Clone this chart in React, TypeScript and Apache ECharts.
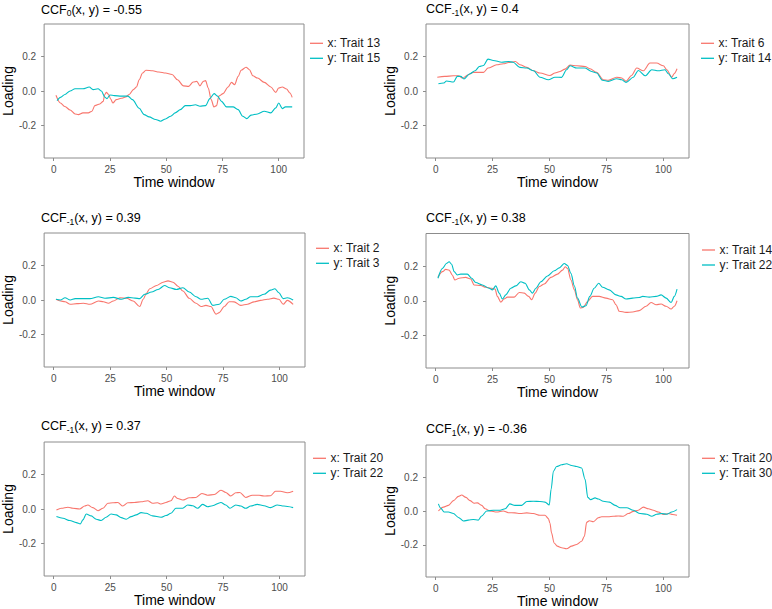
import React, { useEffect, useRef } from "react";
import * as echarts from "echarts";

const RED = "#F8766D";
const TEAL = "#00BFC4";
const FONT = "'Liberation Sans', Arial, Helvetica, sans-serif";

const timeTicks = [0, 25, 50, 75, 100];
const loadingTicks = [-0.2, 0, 0.2];
const timeRange: [number, number] = [-4.25, 111.25];
const loadingRange: [number, number] = [-0.3885, 0.3885];

// Panel titles (rich text: s = subscript lag)
const titles = [
  "{b|CCF}{s|0}{b|(x, y) = -0.55}",
  "{b|CCF}{s|-1}{b|(x, y) = 0.4}",
  "{b|CCF}{s|-1}{b|(x, y) = 0.39}",
  "{b|CCF}{s|-1}{b|(x, y) = 0.38}",
  "{b|CCF}{s|-1}{b|(x, y) = 0.37}",
  "{b|CCF}{s|1}{b|(x, y) = -0.36}",
];

const seriesNames: [string, string][] = [
  ["x: Trait 13", "y: Trait 15"],
  ["x: Trait 6", "y: Trait 14"],
  ["x: Trait 2", "y: Trait 3"],
  ["x: Trait 14", "y: Trait 22"],
  ["x: Trait 20", "y: Trait 22"],
  ["x: Trait 20", "y: Trait 30"],
];

// [time window, loading]
const p1x: [number, number][] = [
  [1, -0.025], [3, -0.07], [5, -0.09], [7.3, -0.11], [9.5, -0.133], [11, -0.137], [13, -0.127],
  [15.4, -0.127], [17, -0.117], [18.3, -0.085], [20.5, -0.075], [22, -0.06], [22.7, -0.02],
  [23.4, -0.008], [24.4, -0.02], [25.3, -0.046], [26.3, -0.07], [27.8, -0.05], [30, -0.042],
  [32, -0.035], [33.6, -0.02], [35.4, 0.008], [36.8, 0.023], [38, 0.065], [39.5, 0.104],
  [41, 0.12], [44, 0.117], [46.8, 0.11], [49.7, 0.104], [52.6, 0.096], [55, 0.065], [57.7, 0.03],
  [60, 0.027], [62, 0.052], [63.6, 0.056], [65, 0.03], [66.5, 0.056], [67.5, 0.06], [68.7, 0.017],
  [70, -0.05], [71.2, -0.092], [72.4, -0.085], [73.4, -0.03], [75.3, -0.015], [77.5, 0.023],
  [79, 0.05], [80.4, 0.037], [82, 0.085], [83.3, 0.12], [85.5, 0.138], [87, 0.123], [88.5, 0.088],
  [90.6, 0.075], [93.6, 0.05], [96.5, 0.023], [98.7, -0.008], [100, 0.017], [101.6, 0.023],
  [103.5, 0.012], [105, -0.012], [106, -0.037],
];
const p1y: [number, number][] = [
  [1.5, -0.056], [3, -0.037], [5, -0.02], [7.3, 0], [9.5, 0.013], [13, 0.013], [15.8, 0.023],
  [17.5, 0.008], [19.7, 0.013], [21.2, 0], [22.7, -0.035], [23.7, -0.044], [25, -0.023],
  [27, -0.027], [30, -0.03], [33, -0.03], [35, -0.05], [38, -0.1], [40.2, -0.137], [42.4, -0.15],
  [45.3, -0.165], [47.5, -0.175], [49.7, -0.162], [52, -0.146], [54, -0.127], [56.3, -0.108],
  [58.5, -0.085], [60.7, -0.085], [63, -0.08], [65, -0.088], [67.5, -0.085], [69.4, -0.044],
  [71.3, -0.015], [72.8, -0.03], [74.6, -0.06], [76.8, -0.092], [79.7, -0.092], [82, -0.108],
  [84, -0.146], [85.8, -0.16], [87.7, -0.14], [90.6, -0.133], [93.6, -0.117], [96.5, -0.127],
  [98.7, -0.098], [100, -0.07], [101.6, -0.102], [103, -0.092], [106, -0.092],
];

const p2x: [number, number][] = [
  [0.7, 0.08], [4, 0.085], [7.8, 0.088], [10, 0.088], [11.9, 0.075], [14.3, 0.094], [16.5, 0.108],
  [21, 0.108], [23, 0.133], [26.8, 0.152], [29.7, 0.158], [32, 0.165], [35, 0.171], [37, 0.152],
  [40, 0.137], [43, 0.117], [45.8, 0.104], [50.2, 0.09], [52.4, 0.104], [54.6, 0.113],
  [56.8, 0.127], [59, 0.15], [62, 0.146], [65.6, 0.142], [67.8, 0.129], [70.7, 0.108],
  [73.6, 0.065], [75.8, 0.062], [79.5, 0.08], [81.7, 0.075], [83.6, 0.056], [86, 0.09],
  [88.3, 0.133], [91.2, 0.117], [94.1, 0.162], [97, 0.162], [100, 0.146], [101.5, 0.123],
  [103.7, 0.08], [104.7, 0.1], [106, 0.129],
];
const p2y: [number, number][] = [
  [1.2, 0.042], [3.4, 0.046], [4.8, 0.058], [7.8, 0.052], [9.5, 0.085], [11, 0.085], [12.4, 0.07],
  [15, 0.1], [17.3, 0.117], [19.2, 0.142], [21, 0.148], [23, 0.185], [25.3, 0.177], [29, 0.167],
  [32, 0.171], [34, 0.167], [37, 0.137], [40, 0.133], [43, 0.117], [45.8, 0.08], [49.5, 0.065],
  [52.4, 0.08], [55.3, 0.079], [57.5, 0.123], [59, 0.146], [62, 0.133], [65.6, 0.133],
  [68.5, 0.113], [70.7, 0.104], [73.3, 0.062], [75.8, 0.056], [79.5, 0.071], [81.7, 0.065],
  [83.6, 0.05], [86.8, 0.08], [89, 0.119], [92, 0.088], [94.9, 0.123], [97.8, 0.117],
  [100.7, 0.123], [102.2, 0.1], [104.1, 0.071], [106, 0.08],
];

const p3x: [number, number][] = [
  [1, 0.004], [3, -0.006], [5, -0.01], [7.3, -0.025], [10.3, -0.021], [13.2, -0.019], [16, -0.025],
  [19.8, -0.006], [22, -0.01], [24.2, -0.019], [26.4, -0.006], [29.3, 0.013], [32.3, 0.01],
  [35.2, -0.006], [38.1, -0.038], [39.6, 0.004], [41, 0.038], [42.5, 0.065], [45.5, 0.084],
  [48.4, 0.103], [50.6, 0.111], [52.8, 0.103], [55, 0.08], [57.2, 0.052], [60, 0.01], [63, -0.019],
  [65.2, -0.038], [67.4, -0.031], [69.6, -0.038], [71.8, -0.082], [73.3, -0.073], [75.5, -0.038],
  [77.7, -0.01], [79.9, -0.011], [82.8, -0.031], [85.8, -0.025], [88.7, -0.011], [91.6, -0.002],
  [94.6, 0.004], [97.5, 0.011], [99.7, 0.004], [101.6, -0.025], [103.4, -0.002], [106, -0.025],
];
const p3y: [number, number][] = [
  [1, 0.004], [3, 0], [5, 0.013], [7.3, 0], [9.5, 0.008], [13.2, 0.008], [16, 0.008], [19.8, 0.019],
  [22.7, 0.01], [26.4, 0.015], [30, 0.004], [33, 0.015], [36, 0.011], [38.1, 0.008], [40.3, 0.033],
  [43.3, 0.046], [46.2, 0.061], [49.1, 0.084], [51.3, 0.071], [54.3, 0.061], [57.2, 0.071],
  [60, 0.046], [63, 0.019], [65.2, 0.004], [68.2, 0.01], [70.4, -0.031], [73.3, -0.025],
  [75.5, 0.004], [78.4, 0.021], [80.6, 0.013], [82.8, -0.006], [85, 0.004], [87.2, 0.019],
  [90.2, 0.019], [93.1, 0.033], [96, 0.057], [97.9, 0.065], [99.7, 0.042], [101.6, 0.008],
  [103.4, 0.013], [106, 0],
];

const p4x: [number, number][] = [
  [1, 0.135], [3, 0.168], [4.4, 0.181], [5.9, 0.177], [7.3, 0.149], [8.4, 0.12], [10.3, 0.13],
  [13.2, 0.135], [15.4, 0.126], [16.9, 0.091], [19.8, 0.088], [22, 0.078], [24.6, 0.072],
  [26.1, 0.067], [27.1, 0.025], [28.6, -0.008], [30, 0.01], [31.5, 0.021], [34.5, 0.021],
  [36.7, 0.048], [38.9, 0.044], [40.8, 0.025], [42.2, 0.006], [43.7, 0.044], [45.5, 0.082],
  [47.7, 0.097], [50.6, 0.135], [53.5, 0.154], [55.7, 0.177], [56.9, 0.196], [57.9, 0.187],
  [59.4, 0.12], [60.9, 0.063], [62.3, 0.005], [63.5, -0.042], [64.8, -0.038], [66.7, -0.004],
  [68.9, 0.025], [71.8, 0.025], [74.8, 0.015], [77.7, 0.006], [79.2, -0.023], [80.6, -0.061],
  [83.6, -0.067], [86.5, -0.065], [89.4, -0.057], [92.4, -0.032], [94.6, -0.01], [96.8, -0.023],
  [99, -0.019], [101.2, -0.032], [103.4, -0.048], [104.8, -0.032], [106, 0],
];
const p4y: [number, number][] = [
  [1, 0.13], [3, 0.187], [4.7, 0.215], [5.9, 0.225], [7, 0.211], [8.1, 0.168], [9.5, 0.149],
  [11, 0.154], [13.9, 0.154], [15.8, 0.13], [17.6, 0.105], [20.5, 0.091], [23.5, 0.072],
  [24.9, 0.063], [26.4, 0.086], [27.9, 0.044], [29.3, 0.01], [30.8, 0.034], [33, 0.072],
  [35.2, 0.086], [37.4, 0.11], [39.3, 0.101], [41.1, 0.063], [42.5, 0.044], [44, 0.072],
  [46.2, 0.11], [49.1, 0.143], [52.1, 0.173], [54.3, 0.19], [56.5, 0.215], [57.9, 0.204],
  [59.4, 0.158], [60.9, 0.086], [62.3, 0.015], [64.2, -0.036], [66, -0.029], [67.7, 0.025],
  [69.6, 0.072], [71.6, 0.101], [73.3, 0.078], [76.2, 0.063], [79.2, 0.034], [81.4, 0.025],
  [83.6, 0.01], [86.5, 0.015], [89.4, 0.019], [90.9, 0.025], [93.8, 0.021], [96.8, 0.025],
  [99, 0.034], [101.2, 0.015], [103.4, -0.01], [104.8, 0.025], [106, 0.067],
];

const p5x: [number, number][] = [
  [1.2, -0.006], [3.4, 0.004], [6.3, 0.01], [8.5, 0.004], [11.5, 0], [13.7, 0.017], [15.1, 0.023],
  [17.3, 0.008], [19.6, -0.01], [21.8, 0.004], [24, 0.033], [26.2, 0.036], [28.4, 0.038],
  [30.6, 0.017], [32.8, 0.036], [35.7, 0.038], [38.7, 0.042], [41.6, 0.048], [43.8, 0.033],
  [46, 0.036], [47.5, 0.029], [49.7, 0.038], [51.9, 0.048], [53.4, 0.075], [54.9, 0.061],
  [57.1, 0.052], [60, 0.065], [63, 0.067], [65.6, 0.09], [68.1, 0.08], [71.1, 0.084], [74, 0.109],
  [76.2, 0.096], [78.4, 0.075], [80.6, 0.094], [82.4, 0.096], [85, 0.067], [87.9, 0.08],
  [90.9, 0.08], [93.1, 0.075], [96, 0.077], [98.2, 0.103], [100.4, 0.103], [103.4, 0.094],
  [106, 0.103],
];
const p5y: [number, number][] = [
  [1.2, -0.044], [4.1, -0.054], [7.1, -0.067], [10, -0.079], [11.8, -0.086], [12.9, -0.063],
  [14.4, -0.029], [16.6, -0.04], [18.8, -0.059], [21, -0.067], [23.2, -0.048], [25.4, -0.029],
  [27.6, -0.034], [29.9, -0.05], [32.1, -0.059], [34.3, -0.044], [36.5, -0.034], [38.7, -0.021],
  [40.9, -0.025], [43.8, -0.04], [47.5, -0.048], [49.7, -0.038], [51.9, -0.025], [54.1, 0.004],
  [57.1, 0.004], [59.3, 0.023], [61.5, 0.019], [63.7, 0.004], [65.9, 0.027], [68.1, 0.013],
  [70.3, 0.019], [74, 0.038], [76.2, 0.023], [78, 0.004], [80.6, 0.023], [82.8, 0.017], [85, 0.004],
  [87.2, 0.017], [90.1, 0.027], [93.1, 0.019], [96, 0.008], [99, 0.023], [101.9, 0.017],
  [106, 0.008],
];

const p6x: [number, number][] = [
  [1.2, 0], [3.4, 0.023], [5.6, 0.033], [7.8, 0.061], [10, 0.086], [11.4, 0.094], [13.3, 0.08],
  [15.1, 0.061], [16.8, 0.046], [18.3, 0.048], [20.2, 0.033], [21.7, 0.013], [23.9, 0],
  [26.8, -0.006], [29.7, 0], [31.9, -0.01], [34.8, -0.011], [37, -0.015], [40, -0.011],
  [42.9, -0.015], [45.8, -0.025], [48, -0.025], [49.5, -0.044], [50.2, -0.073], [50.9, -0.13],
  [52, -0.188], [53.4, -0.207], [55.3, -0.216], [57.5, -0.222], [59.7, -0.207], [61.9, -0.197],
  [64.1, -0.178], [65.3, -0.149], [66.3, -0.067], [67.5, -0.057], [69.3, -0.063], [71.4, -0.04],
  [72.9, -0.034], [75.8, -0.034], [78, -0.031], [80.2, -0.029], [82.4, -0.031], [84.6, -0.015],
  [86.8, -0.002], [89, 0.004], [91.2, 0.023], [93.4, 0.013], [95.6, 0.004], [97.8, -0.006],
  [100, -0.021], [102.2, -0.015], [104.1, -0.021], [106, -0.025],
];
const p6y: [number, number][] = [
  [1.2, 0.042], [2.2, 0.017], [3.7, -0.006], [5.6, -0.006], [7.8, -0.015], [10, -0.038],
  [12.2, -0.059], [14.3, -0.054], [16.5, -0.05], [18.7, -0.054], [20.2, -0.029], [22.4, 0],
  [25.3, 0.004], [28.3, 0.004], [30.5, 0.013], [32.6, 0.042], [34.8, 0.033], [37.8, 0.033],
  [40, 0.056], [42.9, 0.057], [45.8, 0.056], [48, 0.052], [49.9, 0.036], [50.7, 0.128],
  [51.7, 0.234], [53.1, 0.262], [55.3, 0.272], [57.5, 0.278], [59.7, 0.268], [61.9, 0.262],
  [64.1, 0.253], [65.6, 0.186], [66.8, 0.08], [68.1, 0.067], [70, 0.077], [71.4, 0.071],
  [73.6, 0.057], [76.3, 0.052], [78.8, 0.033], [81, 0.019], [83.9, 0.019], [86.8, 0.004],
  [89.8, -0.015], [92.7, -0.019], [94.9, -0.031], [97.1, -0.019], [99.3, -0.015], [101.5, -0.019],
  [103.7, -0.006], [106, 0.008],
];

const panelData: [number, number][][][] = [
  [p1x, p1y], [p2x, p2y], [p3x, p3y], [p4x, p4y], [p5x, p5y], [p6x, p6y],
];

// Panel frames in px: plot box, title top, legend anchor
const layout = [
  { left: 41, top: 24, right: 304, bottom: 158, titleTop: 1.6, legendX: 310, legendY: 43.3 },
  { left: 426, top: 24, right: 689, bottom: 158, titleTop: 1.2, legendX: 701, legendY: 43.3 },
  { left: 41, top: 233, right: 305, bottom: 367, titleTop: 210.3, legendX: 316, legendY: 248.3 },
  { left: 426, top: 233.5, right: 689, bottom: 368, titleTop: 210.3, legendX: 702, legendY: 250 },
  { left: 41, top: 442, right: 305, bottom: 576, titleTop: 418.3, legendX: 313, legendY: 458.3 },
  { left: 426, top: 445, right: 689, bottom: 579, titleTop: 421, legendX: 702, legendY: 458.3 },
];

const FRAME = "#8c8c8c";

function buildOption(): echarts.EChartsOption {
  const grid: any[] = [];
  const xAxis: any[] = [];
  const yAxis: any[] = [];
  const series: any[] = [];
  const title: any[] = [];
  const graphic: any[] = [];

  layout.forEach((L, i) => {
    grid.push({
      left: L.left,
      top: L.top,
      width: L.right - L.left,
      height: L.bottom - L.top,
      show: true,
      borderColor: FRAME,
      borderWidth: 1,
      backgroundColor: "transparent",
    });
    xAxis.push({
      type: "value",
      gridIndex: i,
      min: timeRange[0],
      max: timeRange[1],
      axisLine: { show: false, onZero: false },
      axisTick: { show: true, length: 3, customValues: timeTicks, lineStyle: { color: FRAME } },
      axisLabel: {
        customValues: timeTicks,
        margin: 6,
        fontSize: 10,
        color: "#4d4d4d",
        fontFamily: FONT,
      },
      splitLine: { show: false },
      name: "Time window",
      nameLocation: "middle",
      nameGap: 17,
      nameTextStyle: { fontSize: 14, color: "#000", fontFamily: FONT },
    });
    yAxis.push({
      type: "value",
      gridIndex: i,
      min: loadingRange[0],
      max: loadingRange[1],
      axisLine: { show: false, onZero: false },
      axisTick: { show: true, length: 3, customValues: loadingTicks, lineStyle: { color: FRAME } },
      axisLabel: {
        customValues: loadingTicks,
        formatter: (v: number) => v.toFixed(1),
        margin: 8,
        fontSize: 10,
        color: "#4d4d4d",
        fontFamily: FONT,
      },
      splitLine: { show: false },
      name: "Loading",
      nameLocation: "middle",
      nameGap: 26,
      nameTextStyle: { fontSize: 14, color: "#000", fontFamily: FONT },
    });
    const [xs, ys] = panelData[i];
    const [nx, ny] = seriesNames[i];
    [
      { name: nx, data: xs, color: RED },
      { name: ny, data: ys, color: TEAL },
    ].forEach((s, k) => {
      series.push({
        type: "line",
        name: s.name,
        xAxisIndex: i,
        yAxisIndex: i,
        data: s.data,
        symbol: "none",
        smooth: 0.3,
        smoothMonotone: "x",
        silent: true,
        lineStyle: { width: 1.1, color: s.color },
        itemStyle: { color: s.color },
      });
      // legend key and label
      const cy = L.legendY + k * 15;
      graphic.push({
        type: "line",
        silent: true,
        shape: { x1: L.legendX, y1: cy, x2: L.legendX + 13, y2: cy },
        style: { stroke: s.color, lineWidth: 1.3 },
      });
      graphic.push({
        type: "text",
        silent: true,
        x: L.legendX + 17.5,
        y: cy,
        style: {
          text: s.name,
          fill: "#1a1a1a",
          fontSize: 12,
          fontFamily: FONT,
          verticalAlign: "middle",
          align: "left",
        },
      });
    });
    title.push({
      text: titles[i],
      left: L.left,
      top: L.titleTop,
      padding: 0,
      textStyle: {
        fontFamily: FONT,
        fontWeight: "normal",
        color: "#000",
        rich: {
          b: { fontSize: 12.5, lineHeight: 16, verticalAlign: "middle", color: "#000", fontFamily: FONT },
          s: { fontSize: 8.5, lineHeight: 8, verticalAlign: "bottom", color: "#000", fontFamily: FONT },
        },
      },
    });
  });

  return {
    animation: false,
    backgroundColor: "#ffffff",
    textStyle: { fontFamily: FONT },
    title,
    grid,
    xAxis,
    yAxis,
    series,
    graphic,
  };
}

export default function App() {
  const ref = useRef<HTMLDivElement | null>(null);
  useEffect(() => {
    if (!ref.current) return;
    const chart = echarts.init(ref.current, undefined, { renderer: "svg" });
    chart.setOption(buildOption());
    return () => chart.dispose();
  }, []);
  return (
    <div
      ref={ref}
      style={{ position: "fixed", left: 0, top: 0, width: 772, height: 609, background: "#fff" }}
    />
  );
}
